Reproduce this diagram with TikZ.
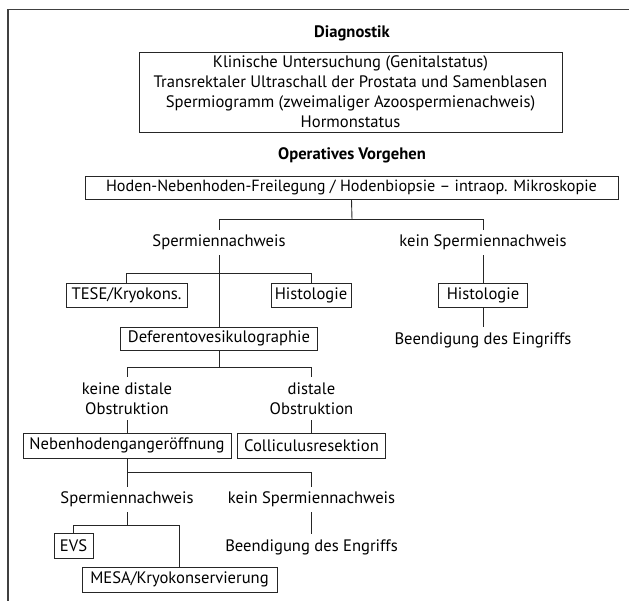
\documentclass[tikz,border=0pt]{standalone}
\usepackage{fontspec}
\setmainfont{PT Sans}
\begin{document}
\begin{tikzpicture}[x=1pt,y=-1pt,
  font=\fontsize{16.6}{19.5}\selectfont,
  box/.style={draw=black!85, line width=0.9pt, inner sep=0pt, minimum height=24pt},
  lbl/.style={inner sep=0pt, align=center},
  ttl/.style={inner sep=0pt, font=\bfseries\fontsize{16.6}{19.5}\selectfont},
  conn/.style={draw=black!85, line width=0.9pt},
  frame/.style={draw=black!75, line width=1.2pt}]
\useasboundingbox (0,0) rectangle (629,601);
\draw[frame] (629,9.5) -- (8,9.5) -- (8,601);

\node[ttl] (diag) at (352,33) {Diagnostik};
\node[box, minimum width=423pt, minimum height=80pt, align=center,
  font=\fontsize{16.6}{20}\selectfont] (dbox) at (350.5,92)
  {Klinische Untersuchung (Genitalstatus)\\
   Transrektaler Ultraschall der Prostata und Samenblasen\\
   Spermiogramm (zweimaliger Azoospermienachweis)\\
   Hormonstatus};
\node[ttl] (op) at (352,155) {Operatives Vorgehen};
\node[box, minimum width=533pt, minimum height=23pt, font=\fontsize{16.2}{19}\selectfont] (hoden) at (351.5,187.5)
  {Hoden-Nebenhoden-Freilegung / Hodenbiopsie -- intraop. Mikroskopie};

\coordinate (j1) at (352,219.5);
\node[lbl, minimum height=25pt] (sp1) at (219,242.5) {Spermiennachweis};
\node[lbl, minimum height=25pt] (ksp1) at (483,242.5) {kein Spermiennachweis};
\coordinate (j2) at (219,273);
\node[box, minimum width=121pt] (tese) at (126.5,295) {TESE/Kryokons.};
\node[box, minimum width=80pt] (histl) at (311,295) {Histologie};
\node[box, minimum width=89pt] (histr) at (483,295) {Histologie};
\node[lbl, minimum height=26pt] (end1) at (483,340) {Beendigung des Eingriffs};
\node[box, minimum width=197pt, minimum height=23pt] (defer) at (219,338.5) {Deferentovesikulographie};
\coordinate (j3) at (219,367);
\node[lbl, minimum height=43pt] (keine) at (127,398.5) {keine distale\\Obstruktion};
\node[lbl, minimum height=43pt] (distale) at (311.5,398.5) {distale\\Obstruktion};
\node[box, minimum width=208pt, minimum height=25pt] (neben) at (127,445.5) {Nebenhodengangeröffnung};
\node[box, minimum width=148pt, minimum height=25pt] (coll) at (311.5,445.5) {Colliculusresektion};
\coordinate (j4) at (127,472);
\node[lbl, minimum height=25pt] (sp2) at (127,499.5) {Spermiennachweis};
\node[lbl, minimum height=25pt] (ksp2) at (311.5,499.5) {kein Spermiennachweis};
\coordinate (j5) at (127,525);
\node[box, minimum width=39pt, minimum height=25pt] (evs) at (73.5,545.5) {EVS};
\node[box, minimum width=195pt, minimum height=25pt] (mesa) at (179.5,579.5) {MESA/Kryokonservierung};
\node[lbl, minimum height=26pt] (end2) at (311.5,547) {Beendigung des Engriffs};

\draw[conn] (hoden.south) -- (j1);
\draw[conn] (sp1.north) |- (j1);
\draw[conn] (ksp1.north) |- (j1);
\draw[conn] (sp1.south) -- (defer.north);
\draw[conn] (tese.north) |- (j2);
\draw[conn] (histl.north) |- (j2);
\draw[conn] (ksp1.south) -- (histr.north);
\draw[conn] (histr.south) -- (end1.north);
\draw[conn] (defer.south) -- (j3);
\draw[conn] (keine.north) |- (j3);
\draw[conn] (distale.north) |- (j3);
\draw[conn] (keine.south) -- (neben.north);
\draw[conn] (distale.south) -- (coll.north);
\draw[conn] (neben.south) -- (sp2.north);
\draw[conn] (ksp2.north) |- (j4);
\draw[conn] (sp2.south) -- (j5);
\draw[conn] (evs.north) |- (j5);
\draw[conn] (mesa.north) |- (j5);
\draw[conn] (ksp2.south) -- (end2.north);
\end{tikzpicture}
\end{document}
